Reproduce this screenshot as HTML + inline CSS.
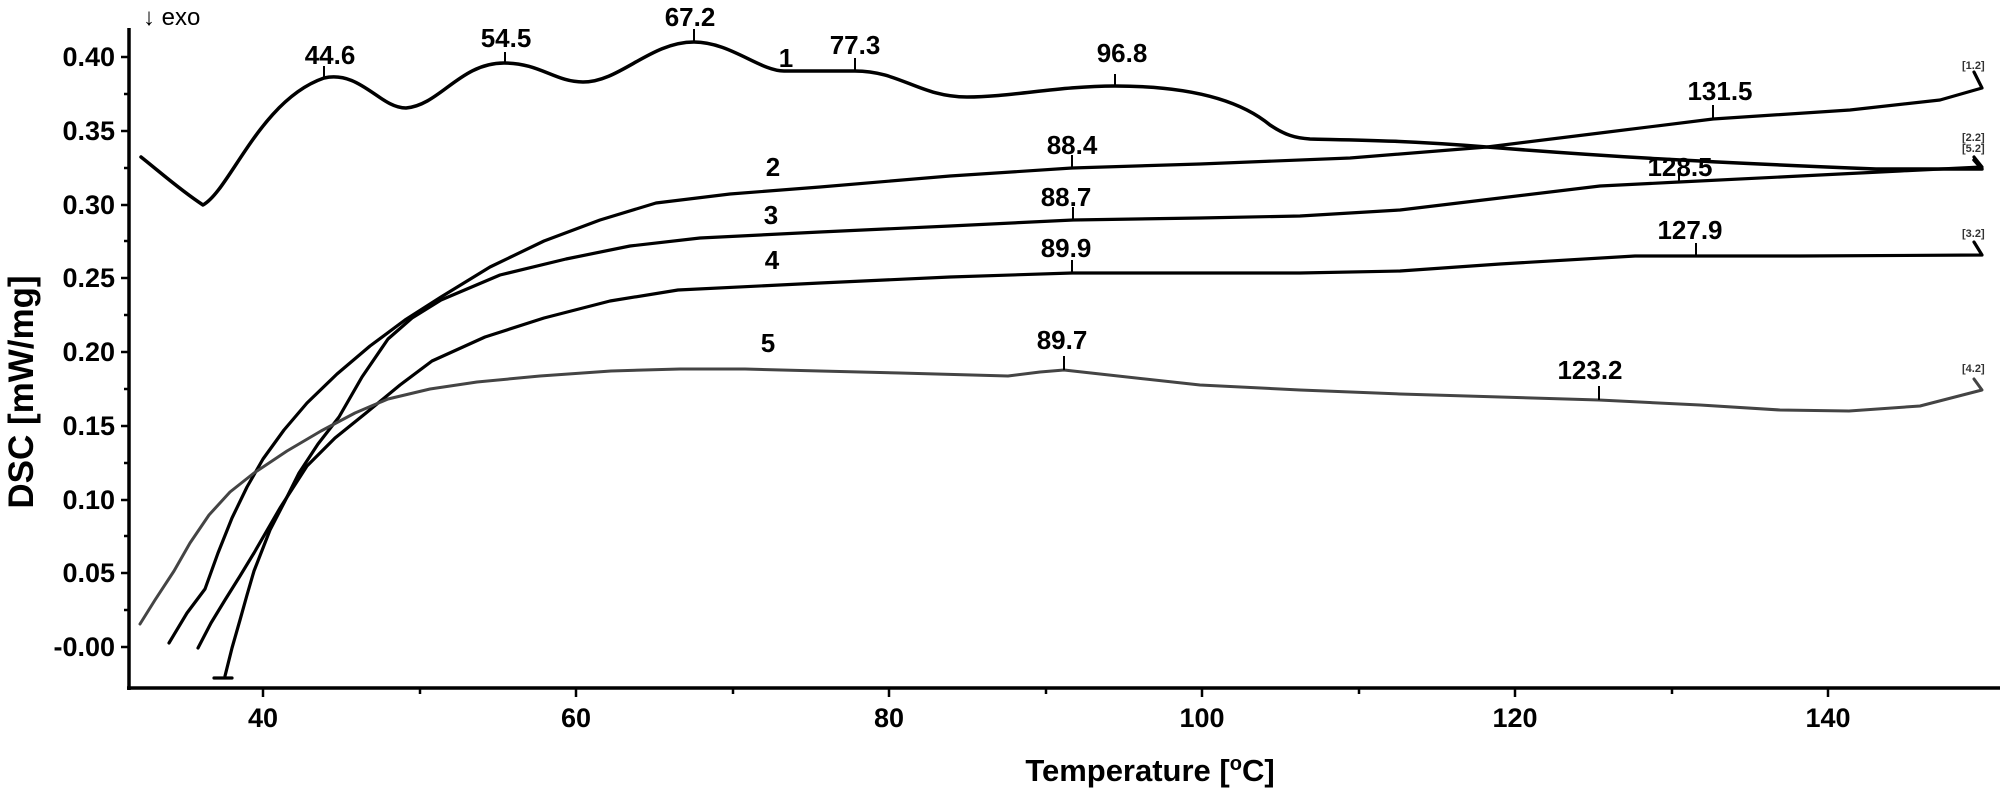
<!DOCTYPE html>
<html><head><meta charset="utf-8"><style>
html,body{margin:0;padding:0;background:#fff;}
svg{display:block;}
text{font-family:"Liberation Sans",Arial,sans-serif;fill:#000;}
.t{font-size:27px;font-weight:bold;}
.l{font-size:26px;font-weight:bold;text-anchor:middle;}
.s{font-size:11px;font-weight:bold;fill:#333;}
</style></head><body>
<svg width="2000" height="790" viewBox="0 0 2000 790" xmlns="http://www.w3.org/2000/svg">
<rect width="2000" height="790" fill="#fff"/>
<g stroke="#000" stroke-width="3.5" fill="none">
<line x1="129" y1="28" x2="129" y2="690"/>
<line x1="127" y1="688" x2="2000" y2="688"/>
</g>
<g stroke="#000" stroke-width="2.5">
<line x1="121" y1="57" x2="129" y2="57"/><line x1="121" y1="131" x2="129" y2="131"/>
<line x1="121" y1="205" x2="129" y2="205"/><line x1="121" y1="278" x2="129" y2="278"/>
<line x1="121" y1="352" x2="129" y2="352"/><line x1="121" y1="426" x2="129" y2="426"/>
<line x1="121" y1="500" x2="129" y2="500"/><line x1="121" y1="573" x2="129" y2="573"/>
<line x1="121" y1="647" x2="129" y2="647"/>
<line x1="124" y1="94" x2="129" y2="94"/><line x1="124" y1="168" x2="129" y2="168"/>
<line x1="124" y1="241" x2="129" y2="241"/><line x1="124" y1="315" x2="129" y2="315"/>
<line x1="124" y1="389" x2="129" y2="389"/><line x1="124" y1="463" x2="129" y2="463"/>
<line x1="124" y1="536" x2="129" y2="536"/><line x1="124" y1="610" x2="129" y2="610"/>
<line x1="263" y1="688" x2="263" y2="697"/><line x1="576" y1="688" x2="576" y2="697"/>
<line x1="889" y1="688" x2="889" y2="697"/><line x1="1202" y1="688" x2="1202" y2="697"/>
<line x1="1515" y1="688" x2="1515" y2="697"/><line x1="1828" y1="688" x2="1828" y2="697"/>
<line x1="420" y1="688" x2="420" y2="694"/><line x1="733" y1="688" x2="733" y2="694"/>
<line x1="1046" y1="688" x2="1046" y2="694"/><line x1="1359" y1="688" x2="1359" y2="694"/>
<line x1="1672" y1="688" x2="1672" y2="694"/>
</g>
<g text-anchor="end">
<text x="115" y="66" class="t">0.40</text><text x="115" y="140" class="t">0.35</text>
<text x="115" y="214" class="t">0.30</text><text x="115" y="287" class="t">0.25</text>
<text x="115" y="361" class="t">0.20</text><text x="115" y="435" class="t">0.15</text>
<text x="115" y="509" class="t">0.10</text><text x="115" y="582" class="t">0.05</text>
<text x="115" y="656" class="t">-0.00</text>
</g>
<text x="263" y="727" class="t" text-anchor="middle">40</text>
<text x="576" y="727" class="t" text-anchor="middle">60</text>
<text x="889" y="727" class="t" text-anchor="middle">80</text>
<text x="1202" y="727" class="t" text-anchor="middle">100</text>
<text x="1515" y="727" class="t" text-anchor="middle">120</text>
<text x="1828" y="727" class="t" text-anchor="middle">140</text>
<text x="1150" y="781" text-anchor="middle" style="font-size:31px;font-weight:bold">Temperature [<tspan font-size="20" dy="-11">o</tspan><tspan dy="11">C]</tspan></text>
<text transform="translate(33,392) rotate(-90)" text-anchor="middle" style="font-size:35px;font-weight:bold">DSC [mW/mg]</text>
<text x="143" y="25" style="font-size:24px">↓ exo</text>

<g fill="none" stroke-linejoin="round" stroke-linecap="round">
<path stroke="#000" stroke-width="3.5" d="M141,157 C160,172 180,190 203,205 C230,190 260,100 324,78 C360,70 380,108 406,108 C440,105 460,63 504,63 C540,63 555,82 583,82 C620,82 650,42 694,42 C730,42 760,71 784,71 L855,71 C900,71 920,97 967,97 C1010,97 1060,86 1115,86 C1190,86 1240,100 1270,125 C1285,135 1295,138 1310,139 C1350,140 1400,140 1487,147 C1600,156 1700,162 1876,169 L1982,169 L1974,160"/>
<polyline stroke="#000" stroke-width="3.2" points="169,643 187,613 205,589 218,553 232,518 247,487 263,459 284,430 307,403 337,374 370,346 405,320 441,297 490,267 544,241 600,220 656,203 730,194 820,187 950,176 1072,168 1200,164 1350,158 1487,147 1600,133 1713,119 1850,110 1940,100 1982,88 1974,72"/>
<polyline stroke="#000" stroke-width="3.2" points="214,678 232,678"/>
<polyline stroke="#000" stroke-width="3.2" points="225,676 232,648 240,620 247,595 254,571 270,530 285,501 299,473 318,444 339,417 362,377 388,339 412,318 441,300 500,275 566,259 630,246 700,238 820,232 950,226 1073,220 1200,218 1300,216 1400,210 1500,198 1600,186 1679,182 1800,176 1900,171 1982,167 1974,157"/>
<polyline stroke="#000" stroke-width="3.2" points="198,648 211,623 225,600 240,576 254,553 280,508 307,466 335,438 366,413 400,385 432,361 485,337 544,318 610,301 678,290 820,283 950,277 1072,273 1200,273 1300,273 1400,271 1500,264 1635,256 1800,256 1982,255 1974,242"/>
<polyline stroke="#444" stroke-width="3" points="140,624 155,600 174,571 190,543 209,515 230,492 254,473 287,451 321,431 355,413 388,399 430,389 477,382 540,376 611,371 680,369 745,369 820,371 900,373 1008,376 1040,372 1064,370 1100,374 1200,385 1300,390 1400,394 1500,397 1599,400 1700,405 1780,410 1849,411 1920,406 1982,390 1974,379"/>
</g>
<g stroke="#000" stroke-width="2">
<line x1="324" y1="78" x2="324" y2="66"/><line x1="505" y1="63" x2="505" y2="52"/>
<line x1="694" y1="42" x2="694" y2="29"/><line x1="855" y1="71" x2="855" y2="58"/>
<line x1="1115" y1="86" x2="1115" y2="74"/><line x1="1713" y1="119" x2="1713" y2="105"/>
<line x1="1072" y1="168" x2="1072" y2="155"/><line x1="1073" y1="220" x2="1073" y2="207"/>
<line x1="1679" y1="182" x2="1679" y2="168"/><line x1="1072" y1="273" x2="1072" y2="260"/>
<line x1="1696" y1="256" x2="1696" y2="243"/><line x1="1064" y1="370" x2="1064" y2="356"/>
<line x1="1599" y1="400" x2="1599" y2="386"/>
</g>
<g>
<text x="330" y="64" class="l">44.6</text>
<text x="506" y="47" class="l">54.5</text>
<text x="690" y="26" class="l">67.2</text>
<text x="855" y="54" class="l">77.3</text>
<text x="786" y="67" class="l">1</text>
<text x="1122" y="62" class="l">96.8</text>
<text x="1720" y="100" class="l">131.5</text>
<text x="1072" y="154" class="l">88.4</text>
<text x="773" y="176" class="l">2</text>
<text x="1066" y="206" class="l">88.7</text>
<text x="771" y="224" class="l">3</text>
<text x="1680" y="176" class="l">128.5</text>
<text x="1066" y="257" class="l">89.9</text>
<text x="772" y="269" class="l">4</text>
<text x="1690" y="239" class="l">127.9</text>
<text x="1062" y="349" class="l">89.7</text>
<text x="768" y="352" class="l">5</text>
<text x="1590" y="379" class="l">123.2</text>
</g>
<g>
<text x="1962" y="69" class="s">[1.2]</text>
<text x="1962" y="141" class="s">[2.2]</text>
<text x="1962" y="152" class="s">[5.2]</text>
<text x="1962" y="237" class="s">[3.2]</text>
<text x="1962" y="372" class="s">[4.2]</text>
</g>
</svg>
</body></html>
